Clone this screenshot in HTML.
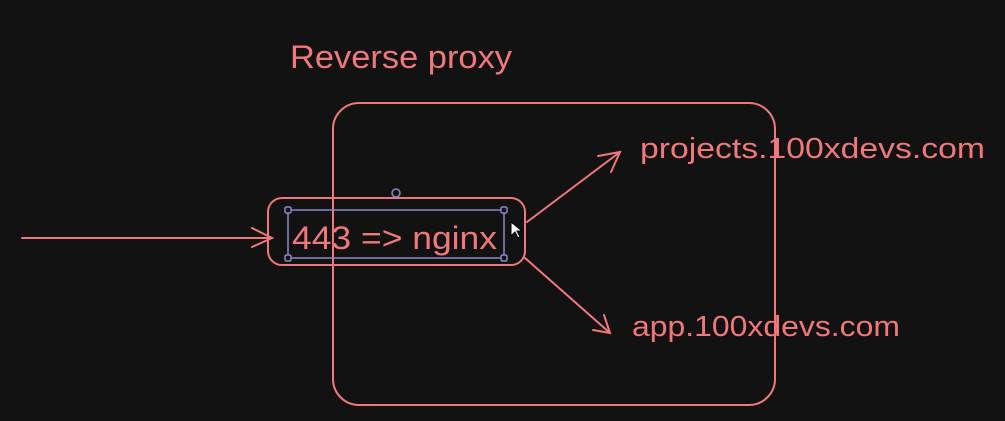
<!DOCTYPE html>
<html><head><style>
html,body{margin:0;padding:0;background:#121212;width:1005px;height:421px;overflow:hidden}
svg text{font-family:"Liberation Sans",sans-serif;fill:#f0787a}
</style></head><body>
<svg width="1005" height="421" viewBox="0 0 1005 421">
<rect width="1005" height="421" fill="#121212"/>
<g stroke="#f0787a" stroke-width="2" fill="none" stroke-linecap="round">
<rect x="333" y="103" width="442" height="302" rx="26"/>
<rect x="268" y="198" width="257" height="67" rx="14"/>
<line x1="22" y1="238" x2="272" y2="238"/>
<path d="M252 228 L272 238 L252 247"/>
<line x1="527" y1="222" x2="620" y2="152"/>
<path d="M598 156 L620 152 L611 172"/>
<line x1="525" y1="258" x2="610" y2="333"/>
<path d="M593 330 L610 333 L604 315"/>
</g>
<g stroke="#8b87c9" stroke-width="1.5" fill="#121212">
<rect x="288" y="210" width="216" height="48" fill="none"/>
<rect x="285" y="207" width="6" height="6" rx="1.5"/>
<rect x="501" y="207" width="6" height="6" rx="1.5"/>
<rect x="285" y="255" width="6" height="6" rx="1.5"/>
<rect x="501" y="255" width="6" height="6" rx="1.5"/>
<circle cx="396" cy="193" r="4"/>
</g>
<text x="290" y="68" font-size="32" textLength="222" lengthAdjust="spacingAndGlyphs">Reverse proxy</text>
<text x="292" y="249" font-size="32" textLength="205" lengthAdjust="spacingAndGlyphs">443 =&gt; nginx</text>
<text x="640" y="158" font-size="29" textLength="345" lengthAdjust="spacingAndGlyphs">projects.100xdevs.com</text>
<text x="632" y="336" font-size="29" textLength="268" lengthAdjust="spacingAndGlyphs">app.100xdevs.com</text>
<path d="M511 222 L511 236 L515 232 L518 238 L520 237 L517 231 L522 231 Z" fill="#fff" stroke="#000" stroke-width="1"/>
</svg>
</body></html>
